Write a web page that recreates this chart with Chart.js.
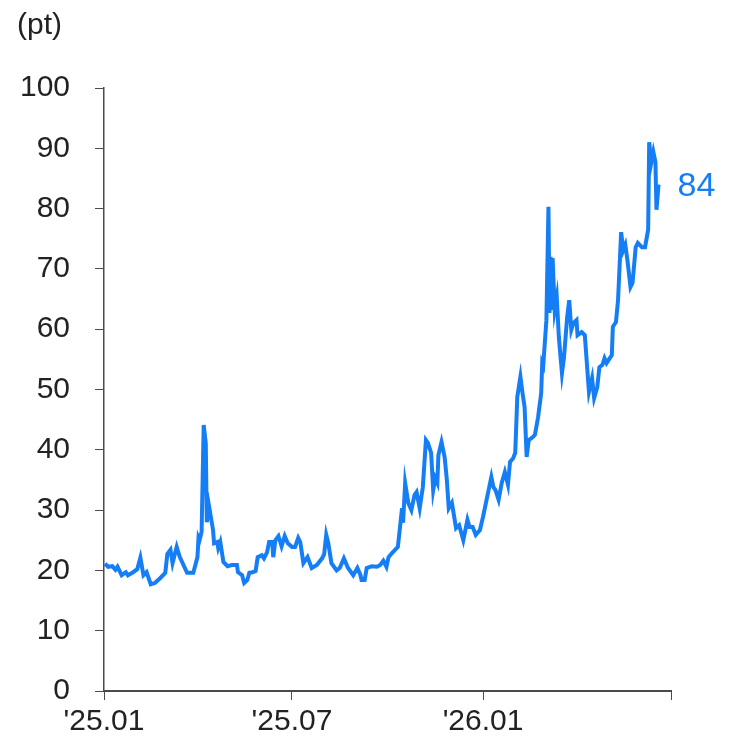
<!DOCTYPE html>
<html lang="ko">
<head>
<meta charset="UTF-8">
<title>지수 추이</title>
<script src="https://cdn.jsdelivr.net/npm/chart.js"></script>
<style>
  html, body { margin: 0; padding: 0; background: #fff; }
  #wrap { width: 731px; height: 742px; position: relative; }
</style>
</head>
<body>
<div id="wrap"><canvas id="chart"></canvas></div>
<script>
// days counted from 2025-01-01
const days = [1, 4, 8, 11, 13, 17, 21, 23, 28, 32, 35, 38, 41, 45, 49, 54, 59, 61, 64, 66, 70, 73, 80, 86, 90, 91, 92, 94, 96, 98, 99, 101, 105, 106, 109, 110, 112, 115, 119,
  123, 128, 129, 133, 135, 138, 140, 143, 146, 148, 152, 154, 157, 159, 162, 163, 165, 168, 171, 174, 177, 181, 184, 187, 189, 192, 196, 200, 205, 210, 212, 214, 216, 219, 224, 227, 231, 235, 240, 244, 247, 248, 251, 253, 258,
  263, 266, 269, 272, 274, 278, 283, 287, 288, 290, 293, 296, 299, 301, 304, 307, 310, 312, 315, 317, 319, 321, 322, 325, 328, 330, 332, 335, 339, 342, 346, 350, 352, 355, 358, 362, 365, 369, 373, 375, 377, 380, 383, 386, 389, 391,
  394, 396, 398, 401, 403, 405, 407, 409, 413, 415, 418, 421, 422, 423, 426, 428, 429, 430, 431, 432, 434, 436, 438, 441, 443, 446, 448, 450, 452, 455, 456, 460, 463,
  467, 470, 472, 475, 477, 480, 482, 484, 489, 490, 493, 495, 498, 500, 502, 504, 507, 509, 512, 514, 518, 521, 524, 525, 527, 529, 531, 532, 534];
const values = [21.1, 20.6, 20.7, 20.1, 20.6, 19.2, 19.7, 19.2, 19.7, 20.2, 22.1, 19.2, 19.7, 17.7, 17.9, 18.7, 19.6, 22.7, 23.4, 21.2, 23.9, 22.2, 19.6, 19.6, 22.2, 25.4, 25.0, 26.4, 44.1, 41.1, 28.0, 30.8, 26.7, 24.5, 24.7, 23.7, 24.7, 21.4, 20.7,
  20.9, 20.9, 19.7, 19.2, 17.9, 18.4, 19.6, 19.7, 19.9, 22.2, 22.5, 22.0, 23.0, 24.7, 24.7, 22.2, 25.0, 25.7, 24.0, 25.7, 24.5, 23.9, 23.9, 25.4, 24.7, 21.2, 22.2, 20.4, 20.9, 22.0, 22.7, 25.9, 24.5, 21.2, 20.0, 20.4, 22.0, 20.4, 19.2, 20.4, 19.2, 18.4, 18.4, 20.4, 20.7,
  20.6, 20.9, 21.6, 20.6, 22.2, 23.0, 23.9, 30.3, 27.9, 34.5, 31.2, 30.0, 32.5, 33.0, 30.3, 33.8, 41.6, 41.1, 39.5, 33.3, 35.3, 34.5, 39.1, 41.3, 38.8, 35.3, 30.3, 31.2, 27.0, 27.5, 25.0, 28.4, 27.2, 27.2, 25.9, 26.7, 28.9, 32.2, 35.5, 33.8, 33.3, 31.7, 34.5, 36.3, 34.2, 38.0,
  38.6, 39.5, 48.8, 52.1, 49.4, 47.1, 38.8, 41.6, 42.1, 42.5, 45.4, 49.4, 54.4, 54.0, 61.5, 80.3, 62.7, 72.0, 63.2, 71.8, 63.2, 65.3, 58.7, 52.7, 55.4, 62.0, 64.8, 59.9, 61.0, 61.5, 59.0, 59.5, 59.0,
  49.6, 51.9, 48.6, 50.4, 53.7, 54.1, 55.2, 54.4, 55.7, 60.4, 61.2, 64.8, 76.1, 73.1, 74.0, 71.5, 67.0, 67.7, 73.6, 74.3, 73.6, 73.6, 76.5, 91.0, 87.6, 89.4, 87.7, 79.8, 84.0];

const tickDays = [0, 181, 365, 546];
const tickLabels = ["'25.01", "'25.07", "'26.01", ""];
const unitLabel = '(pt)';

const lineColor = '#157ef5';
const axisColor = '#4a4a4a';
const fontFamily = '"Liberation Sans", Arial, sans-serif';

// unit text at top left and the latest value at the end of the line
const annotations = {
  id: 'annotations',
  afterDraw(chart) {
    const ctx = chart.ctx;
    ctx.save();
    ctx.font = '30px ' + fontFamily;
    ctx.fillStyle = '#222';
    ctx.textAlign = 'left';
    ctx.textBaseline = 'middle';
    ctx.fillText(unitLabel, 17, 26);

    const meta = chart.getDatasetMeta(0);
    const last = meta.data[meta.data.length - 1];
    ctx.font = '34px ' + fontFamily;
    ctx.fillStyle = lineColor;
    ctx.fillText(String(values[values.length - 1]), last.x + 19, last.y + 2);
    ctx.restore();
  }
};

new Chart(document.getElementById('chart'), {
  type: 'line',
  data: {
    datasets: [{
      data: days.map((d, i) => ({ x: d, y: values[i] })),
      borderColor: lineColor,
      borderWidth: 4,
      pointRadius: 0,
      tension: 0,
      fill: false
    }]
  },
  options: {
    responsive: true,
    maintainAspectRatio: false,
    animation: false,
    layout: { padding: { left: 14, right: 60, top: 88, bottom: 0 } },
    plugins: { legend: { display: false }, tooltip: { enabled: false } },
    scales: {
      x: {
        type: 'linear',
        min: 0,
        max: 546,
        afterBuildTicks: scale => { scale.ticks = tickDays.map(v => ({ value: v })); },
        afterFit: scale => { scale.height = 51; },
        ticks: {
          autoSkip: false,
          maxRotation: 0,
          padding: 4,
          color: '#222',
          font: { family: fontFamily, size: 30 },
          callback: (value, index) => tickLabels[index]
        },
        grid: { drawOnChartArea: false, drawTicks: true, tickLength: 9, color: axisColor },
        border: { display: true, color: axisColor, width: 2 }
      },
      y: {
        min: 0,
        max: 100,
        afterFit: scale => { scale.width = 90; },
        ticks: {
          stepSize: 10,
          padding: 25,
          color: '#222',
          font: { family: fontFamily, size: 30 }
        },
        grid: { drawOnChartArea: false, drawTicks: true, tickLength: 9, color: axisColor },
        border: { display: true, color: axisColor, width: 1.5 }
      }
    }
  },
  plugins: [annotations]
});
</script>
</body>
</html>
